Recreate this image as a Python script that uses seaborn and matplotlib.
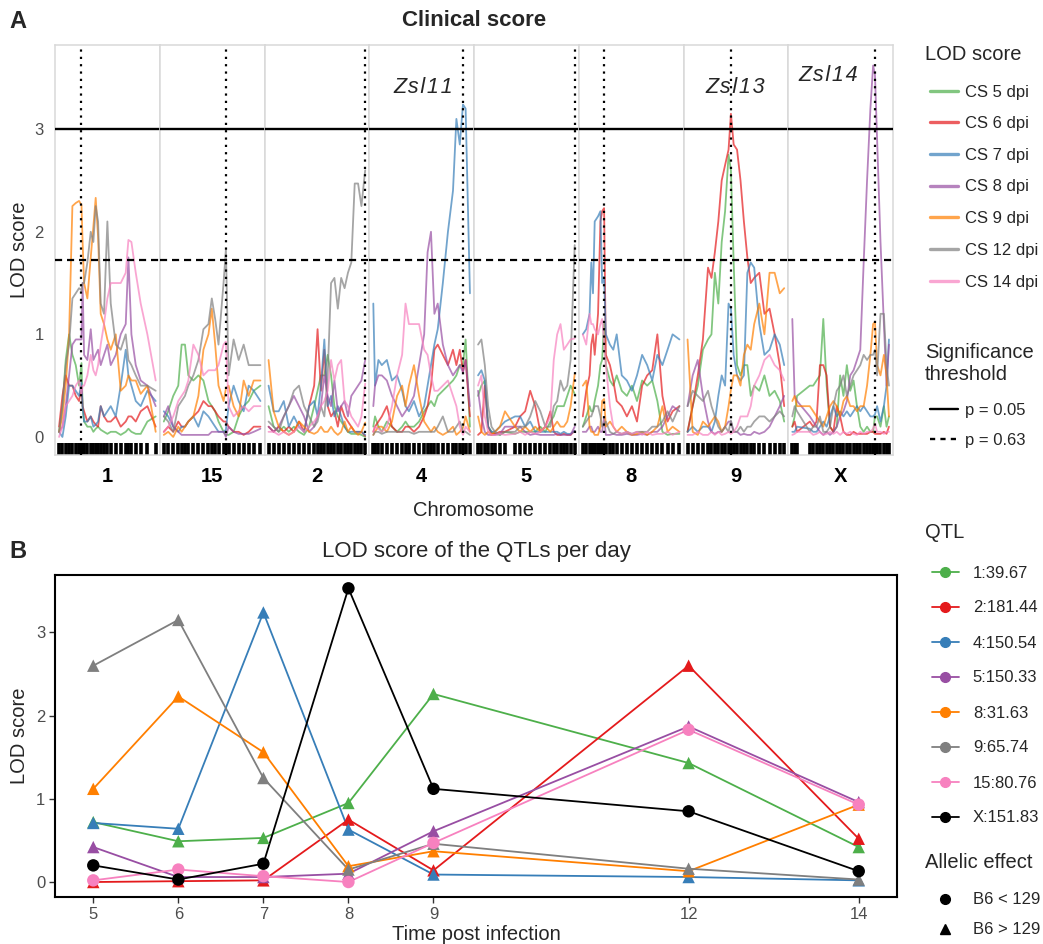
import matplotlib
matplotlib.use("Agg")
import matplotlib.pyplot as plt
from matplotlib.lines import Line2D
import numpy as np
import pandas as pd
import seaborn as sns

# ---------------- Panel A data: LOD score traces per chromosome (Mb) ----------------
series_names = ["CS 5 dpi", "CS 6 dpi", "CS 7 dpi", "CS 8 dpi", "CS 9 dpi", "CS 12 dpi", "CS 14 dpi"]
chrom_names = ["1", "15", "2", "4", "5", "8", "9", "X"]
qtl_pos = [39.67, 80.76, 181.44, 150.54, 150.33, 31.63, 65.74, 151.83]

c1_pos = [3, 8.5, 13.9, 19.4, 24.8, 30.3, 35.7, 39.67, 41.5, 43.9, 49.3, 54.8, 59.1, 62.9, 66.8, 71.1, 76.5, 82, 87.5, 95.7, 103.8, 112, 116.4, 121.3, 128.4, 136.5, 147.4, 161]
c1_cs5 = [0.05, 0.3, 0.75, 1.0, 0.8, 0.7, 0.5, 0.72, 0.3, 0.15, 0.1, 0.1, 0.05, 0.08, 0.1, 0.07, 0.05, 0.03, 0.05, 0.05, 0.02, 0.05, 0.08, 0.05, 0.03, 0.03, 0.15, 0.2]
c1_cs6 = [0.1, 0.4, 0.6, 0.5, 0.5, 0.4, 0.35, 0.49, 0.3, 0.25, 0.15, 0.2, 0.15, 0.12, 0.1, 0.3, 0.2, 0.15, 0.15, 0.2, 0.1, 0.15, 0.2, 0.2, 0.15, 0.25, 0.3, 0.1]
c1_cs7 = [0.05, 0.0, 0.2, 0.5, 0.5, 0.45, 0.4, 0.53, 0.3, 0.15, 0.15, 0.2, 0.1, 0.12, 0.15, 0.3, 0.2, 0.25, 0.3, 0.2, 0.5, 0.85, 0.6, 0.5, 0.35, 0.3, 0.45, 0.35]
c1_cs8 = [0.05, 0.1, 0.3, 0.6, 0.9, 0.95, 0.95, 0.95, 1.5, 0.8, 0.75, 1.05, 0.75, 0.8, 0.85, 0.7, 0.8, 0.9, 0.7, 0.8, 1.0, 1.1, 1.75, 1.0, 0.7, 0.55, 0.5, 0.3]
c1_cs9 = [0.05, 0.2, 0.5, 1.0, 2.25, 2.28, 2.3, 2.26, 1.9, 1.5, 1.35, 1.75, 2.05, 2.33, 1.95, 1.2, 1.1, 0.95, 0.85, 1.0, 0.45, 0.5, 0.6, 0.55, 0.55, 0.42, 0.5, 0.05]
c1_cs12 = [0.05, 0.3, 0.7, 0.9, 1.35, 1.4, 1.45, 1.43, 1.5, 1.5, 1.7, 2.0, 1.9, 2.25, 2.1, 1.3, 1.2, 2.1, 1.3, 0.9, 0.85, 1.0, 0.75, 0.7, 0.6, 0.5, 0.5, 0.45]
c1_cs14 = [0.0, 0.1, 0.3, 0.35, 0.4, 0.5, 0.55, 0.42, 0.5, 0.5, 0.6, 0.8, 0.65, 0.6, 0.7, 0.9, 1.1, 1.35, 1.5, 1.5, 1.5, 1.6, 1.92, 1.9, 1.6, 1.3, 1.0, 0.55]

c15_pos = [3, 8.5, 14.8, 21.1, 25.3, 29.5, 33.7, 40, 46.3, 52.6, 58.9, 63.1, 67.3, 71.5, 77.8, 80.76, 84.1, 90.4, 96.7, 103, 109.3, 115.6, 124]
c15_cs5 = [0.15, 0.25, 0.4, 0.5, 0.9, 0.9, 0.6, 0.55, 0.6, 0.55, 0.35, 0.3, 0.25, 0.15, 0.05, 0.02, 0.02, 0.05, 0.2, 0.3, 0.35, 0.45, 0.5]
c15_cs6 = [0.05, 0.1, 0.05, 0.15, 0.1, 0.1, 0.15, 0.2, 0.25, 0.35, 0.3, 0.3, 0.25, 0.2, 0.15, 0.15, 0.1, 0.05, 0.05, 0.02, 0.05, 0.1, 0.1]
c15_cs7 = [0.25, 0.2, 0.1, 0.05, 0.1, 0.1, 0.15, 0.2, 0.1, 0.25, 0.2, 0.15, 0.1, 0.05, 0.05, 0.07, 0.3, 0.5, 0.35, 0.25, 0.5, 0.45, 0.35]
c15_cs8 = [0.2, 0.3, 0.1, 0.05, 0.02, 0.02, 0.02, 0.02, 0.02, 0.02, 0.02, 0.05, 0.05, 0.05, 0.05, 0.0, 0.1, 0.05, 0.03, 0.03, 0.03, 0.05, 0.08]
c15_cs9 = [0.02, 0.05, 0.0, 0.1, 0.05, 0.1, 0.15, 0.2, 0.4, 0.85, 1.0, 1.25, 0.9, 0.5, 0.35, 0.47, 0.5, 0.3, 0.2, 0.55, 0.4, 0.55, 0.55]
c15_cs12 = [0.2, 0.15, 0.05, 0.3, 0.35, 0.4, 0.5, 0.6, 0.75, 1.05, 1.1, 1.35, 1.15, 0.9, 1.5, 1.83, 0.6, 0.95, 0.75, 0.9, 0.7, 0.7, 0.7]
c15_cs14 = [0.05, 0.1, 0.2, 0.35, 0.4, 0.45, 0.55, 0.9, 0.8, 0.6, 0.65, 0.65, 0.65, 0.7, 0.9, 0.93, 0.3, 0.2, 0.25, 0.3, 0.25, 0.3, 0.3]

c2_pos = [3, 12.4, 21.7, 31.1, 40.4, 49.8, 59.2, 68.5, 77.9, 87.2, 93.5, 99.7, 106, 112.2, 118.4, 124.6, 130.9, 137.1, 143.4, 149.6, 155.8, 162.1, 168.3, 174.5, 181.44]
c2_cs5 = [0.3, 0.1, 0.05, 0.1, 0.05, 0.1, 0.05, 0.02, 0.1, 0.3, 0.45, 0.6, 0.6, 0.8, 0.6, 0.3, 0.2, 0.15, 0.1, 0.05, 0.03, 0.03, 0.03, 0.02, 0.0]
c2_cs6 = [0.1, 0.05, 0.1, 0.05, 0.1, 0.05, 0.15, 0.05, 0.3, 0.5, 1.05, 0.45, 0.85, 0.3, 0.2, 0.25, 0.1, 0.3, 0.2, 0.15, 0.1, 0.05, 0.05, 0.05, 0.01]
c2_cs7 = [0.5, 0.25, 0.25, 0.35, 0.1, 0.2, 0.1, 0.05, 0.3, 0.35, 0.2, 0.5, 0.95, 0.3, 0.4, 0.2, 0.3, 0.2, 0.1, 0.05, 0.05, 0.05, 0.05, 0.05, 0.02]
c2_cs8 = [0.1, 0.05, 0.1, 0.2, 0.3, 0.4, 0.3, 0.2, 0.05, 0.1, 0.2, 0.3, 0.6, 0.4, 0.3, 0.55, 0.25, 0.3, 0.35, 0.2, 0.4, 0.45, 0.5, 0.55, 0.75]
c2_cs9 = [0.75, 0.25, 0.1, 0.05, 0.02, 0.05, 0.15, 0.1, 0.05, 0.03, 0.05, 0.1, 0.05, 0.05, 0.1, 0.05, 0.02, 0.05, 0.15, 0.05, 0.1, 0.05, 0.02, 0.05, 0.14]
c2_cs12 = [0.15, 0.1, 0.05, 0.2, 0.3, 0.45, 0.5, 0.3, 0.2, 0.1, 0.15, 0.3, 0.2, 0.6, 1.5, 1.55, 1.25, 1.55, 1.45, 1.6, 1.7, 2.47, 2.47, 2.25, 2.6]
c2_cs14 = [0.05, 0.05, 0.02, 0.05, 0.02, 0.05, 0.1, 0.05, 0.1, 0.15, 0.2, 0.3, 0.35, 0.45, 0.75, 0.55, 0.7, 0.75, 0.35, 0.3, 0.2, 0.15, 0.1, 0.2, 0.52]

c4_pos = [3, 5.8, 11.4, 17, 25.3, 33.7, 42.1, 50.4, 56, 61.6, 69.9, 78.3, 86.7, 92.3, 97.9, 103.5, 109, 117.4, 125.8, 134.1, 139.7, 145.3, 150.54, 154.9, 162]
c4_cs5 = [0.1, 0.2, 0.1, 0.05, 0.15, 0.1, 0.05, 0.1, 0.15, 0.1, 0.1, 0.15, 0.25, 0.3, 0.35, 0.3, 0.4, 0.45, 0.5, 0.55, 0.6, 0.7, 0.71, 0.95, 0.1]
c4_cs6 = [0.05, 0.1, 0.15, 0.2, 0.3, 0.1, 0.05, 0.05, 0.1, 0.1, 0.05, 0.1, 0.2, 0.3, 0.5, 0.85, 0.9, 0.8, 0.7, 0.85, 0.7, 0.85, 0.64, 0.75, 0.2]
c4_cs7 = [1.3, 0.5, 0.75, 0.7, 0.75, 0.55, 0.6, 0.45, 0.3, 0.25, 0.35, 0.2, 0.3, 0.5, 0.7, 0.9, 1.05, 1.5, 2.0, 2.4, 3.1, 2.85, 3.24, 3.2, 1.4]
c4_cs8 = [0.3, 0.5, 0.6, 0.6, 0.55, 0.4, 0.3, 0.2, 0.25, 0.3, 0.4, 0.7, 1.0, 1.8, 2.0, 1.2, 1.3, 0.9, 0.7, 0.6, 0.65, 0.7, 0.63, 0.75, 0.3]
c4_cs9 = [0.02, 0.05, 0.1, 0.1, 0.05, 0.15, 0.4, 0.5, 0.3, 0.5, 0.7, 0.4, 0.15, 0.1, 0.05, 0.1, 0.05, 0.02, 0.05, 0.1, 0.02, 0.05, 0.09, 0.2, 0.05]
c4_cs12 = [0.02, 0.05, 0.05, 0.03, 0.05, 0.05, 0.05, 0.05, 0.05, 0.05, 0.03, 0.05, 0.05, 0.05, 0.05, 0.05, 0.1, 0.2, 0.05, 0.05, 0.1, 0.15, 0.06, 0.05, 0.02]
c4_cs14 = [0.05, 0.1, 0.08, 0.05, 0.1, 0.3, 0.6, 0.8, 1.3, 1.1, 1.1, 1.1, 0.85, 0.8, 0.6, 0.45, 0.45, 0.5, 0.55, 0.4, 0.3, 0.1, 0.02, 0.1, 0.05]

c5_pos = [3, 8.1, 13.3, 18.4, 23.5, 28.7, 36.4, 44, 59.4, 67.1, 74.8, 82.5, 90.2, 97.9, 105.6, 113.3, 118.4, 123.6, 128.7, 133.8, 139, 144.1, 150.33]
c5_cs5 = [0.4, 0.5, 0.55, 0.1, 0.05, 0.03, 0.02, 0.05, 0.03, 0.05, 0.05, 0.05, 0.05, 0.1, 0.05, 0.15, 0.2, 0.3, 0.3, 0.3, 0.4, 0.5, 0.42]
c5_cs6 = [0.02, 0.05, 0.5, 0.1, 0.03, 0.03, 0.05, 0.05, 0.1, 0.2, 0.25, 0.45, 0.3, 0.05, 0.1, 0.25, 0.05, 0.02, 0.02, 0.03, 0.02, 0.02, 0.06]
c5_cs7 = [0.6, 0.65, 0.55, 0.1, 0.05, 0.05, 0.1, 0.15, 0.2, 0.2, 0.1, 0.15, 0.05, 0.05, 0.05, 0.05, 0.05, 0.05, 0.03, 0.05, 0.03, 0.03, 0.06]
c5_cs8 = [0.45, 0.2, 0.05, 0.02, 0.02, 0.02, 0.03, 0.1, 0.1, 0.1, 0.05, 0.02, 0.03, 0.02, 0.02, 0.02, 0.02, 0.03, 0.02, 0.02, 0.02, 0.02, 0.1]
c5_cs9 = [0.2, 0.05, 0.02, 0.05, 0.02, 0.05, 0.1, 0.25, 0.1, 0.05, 0.1, 0.05, 0.1, 0.05, 0.1, 0.05, 0.1, 0.15, 0.1, 0.1, 0.15, 0.3, 0.61]
c5_cs12 = [0.9, 0.95, 0.7, 0.3, 0.1, 0.05, 0.02, 0.05, 0.05, 0.1, 0.1, 0.2, 0.35, 0.25, 0.1, 0.1, 0.3, 0.35, 0.55, 0.45, 0.5, 0.75, 1.87]
c5_cs14 = [0.5, 0.6, 0.2, 0.05, 0.02, 0.02, 0.03, 0.02, 0.03, 0.05, 0.02, 0.05, 0.03, 0.05, 0.1, 0.2, 0.75, 1.0, 1.1, 0.85, 0.9, 0.95, 0.96]

c8_pos = [3, 7.6, 12.1, 14.4, 16.7, 19, 23.5, 26.7, 29, 31.63, 34, 39.5, 44, 48.6, 55.4, 62.3, 69.1, 75.9, 82.8, 89.6, 96.4, 103.3, 110.1, 117, 123.8, 133]
c8_cs5 = [0.1, 0.2, 0.3, 0.25, 0.25, 0.35, 0.5, 0.7, 0.75, 1.12, 0.7, 0.55, 0.5, 0.6, 0.45, 0.4, 0.5, 0.35, 0.55, 0.5, 0.55, 0.35, 0.05, 0.02, 0.03, 0.03]
c8_cs6 = [0.2, 0.45, 0.6, 0.9, 1.0, 0.8, 1.2, 2.1, 2.2, 2.23, 0.8, 0.7, 0.55, 0.35, 0.3, 0.2, 0.3, 0.15, 0.5, 0.6, 0.65, 1.0, 0.4, 0.15, 0.25, 0.3]
c8_cs7 = [1.0, 1.05, 1.2, 1.7, 1.4, 2.1, 2.15, 2.2, 1.5, 1.56, 1.0, 0.9, 0.85, 1.0, 0.6, 0.55, 0.45, 0.6, 0.8, 0.7, 0.55, 0.8, 0.7, 0.85, 1.0, 0.95]
c8_cs8 = [0.05, 0.05, 0.1, 0.1, 0.05, 0.05, 0.1, 0.05, 0.05, 0.19, 0.02, 0.02, 0.03, 0.02, 0.02, 0.03, 0.02, 0.02, 0.03, 0.02, 0.05, 0.05, 0.1, 0.2, 0.3, 0.25]
c8_cs9 = [0.5, 0.55, 0.1, 0.05, 0.05, 0.02, 0.02, 0.1, 0.35, 0.37, 0.1, 0.15, 0.1, 0.05, 0.1, 0.05, 0.02, 0.03, 0.05, 0.02, 0.05, 0.1, 0.3, 0.05, 0.1, 0.05]
c8_cs12 = [0.1, 0.15, 0.2, 0.2, 0.25, 0.3, 0.3, 0.2, 0.1, 0.13, 0.15, 0.05, 0.03, 0.05, 0.03, 0.05, 0.03, 0.05, 0.05, 0.05, 0.1, 0.1, 0.15, 0.25, 0.15, 0.3]
c8_cs14 = [1.0, 0.9, 1.2, 1.1, 1.1, 1.05, 1.0, 1.1, 1.15, 0.93, 0.7, 0.3, 0.1, 0.05, 0.03, 0.05, 0.03, 0.05, 0.02, 0.05, 0.02, 0.03, 0.03, 0.05, 0.02, 0.05]

c9_pos = [3, 10.4, 17.8, 25.2, 32.6, 37.6, 42.5, 47.5, 52.4, 57.3, 62.3, 65.74, 69.7, 74.6, 79.6, 84.5, 89.5, 94.4, 99.4, 106.8, 114.2, 121.6, 129, 136.4, 142.8]
c9_cs5 = [0.05, 0.3, 0.5, 0.85, 0.95, 1.0, 1.6, 1.3, 1.9, 2.2, 2.75, 2.6, 1.7, 0.7, 0.6, 0.7, 0.7, 0.4, 0.5, 0.45, 0.6, 0.4, 0.45, 0.35, 0.15]
c9_cs6 = [0.05, 0.3, 0.6, 0.95, 1.65, 1.55, 1.8, 2.1, 2.5, 2.65, 2.8, 3.15, 2.85, 2.8, 2.5, 2.1, 1.75, 1.5, 1.55, 1.6, 1.2, 1.25, 1.0, 0.7, 0.3]
c9_cs7 = [0.05, 0.1, 0.05, 0.1, 0.1, 0.05, 0.15, 0.4, 0.6, 0.5, 1.3, 1.25, 0.8, 0.6, 0.55, 0.6, 1.6, 1.7, 1.65, 1.1, 0.8, 0.85, 1.0, 0.9, 0.7]
c9_cs8 = [0.3, 0.6, 0.75, 0.4, 0.15, 0.05, 0.03, 0.05, 0.05, 0.1, 0.15, 0.15, 0.05, 0.05, 0.02, 0.03, 0.02, 0.02, 0.05, 0.03, 0.05, 0.1, 0.2, 0.3, 0.4]
c9_cs9 = [0.95, 0.05, 0.02, 0.15, 0.1, 0.15, 0.2, 0.15, 0.05, 0.1, 0.3, 0.46, 0.6, 0.6, 0.5, 0.8, 0.9, 0.85, 1.1, 1.3, 1.0, 1.6, 1.6, 1.4, 1.45]
c9_cs12 = [0.3, 0.45, 0.4, 0.35, 0.45, 0.3, 0.2, 0.1, 0.05, 0.1, 0.05, 0.16, 0.05, 0.05, 0.1, 0.05, 0.1, 0.1, 0.15, 0.2, 0.2, 0.15, 0.2, 0.25, 0.2]
c9_cs14 = [0.02, 0.02, 0.05, 0.02, 0.02, 0.05, 0.02, 0.05, 0.02, 0.03, 0.05, 0.03, 0.05, 0.1, 0.2, 0.2, 0.2, 0.3, 0.5, 0.6, 0.75, 0.8, 0.7, 0.65, 0.55]

cX_pos = [3, 7.2, 11.5, 34.5, 40.6, 46.6, 52.7, 58.8, 64.8, 70.9, 77, 83, 89.1, 95.1, 101.2, 107.3, 113.3, 119.4, 125.4, 131.5, 137.6, 143.6, 148.5, 151.83, 155.7, 161.8, 167.9, 172.7, 177]
cX_cs5 = [0.1, 0.2, 0.4, 0.5, 0.5, 0.55, 0.6, 1.15, 0.5, 0.1, 0.05, 0.1, 0.6, 0.4, 0.7, 0.45, 0.55, 0.3, 0.1, 0.05, 0.1, 0.05, 0.05, 0.2, 0.2, 0.1, 0.3, 0.1, 0.2]
cX_cs6 = [0.1, 0.15, 0.05, 0.15, 0.1, 0.15, 0.7, 0.7, 0.6, 0.1, 0.05, 0.3, 0.2, 0.05, 0.02, 0.02, 0.05, 0.03, 0.03, 0.03, 0.03, 0.05, 0.05, 0.03, 0.03, 0.03, 0.05, 0.03, 0.1]
cX_cs7 = [0.05, 0.05, 0.1, 0.08, 0.05, 0.05, 0.1, 0.15, 0.1, 0.2, 0.3, 0.2, 0.25, 0.2, 0.25, 0.2, 0.25, 0.3, 0.25, 0.3, 0.25, 0.2, 0.2, 0.22, 0.3, 0.15, 0.3, 0.5, 0.95]
cX_cs8 = [1.15, 0.4, 0.35, 0.2, 0.15, 0.1, 0.05, 0.02, 0.05, 0.02, 0.05, 0.1, 0.2, 0.25, 0.35, 0.6, 0.65, 0.75, 0.85, 1.7, 2.5, 3.2, 3.62, 3.53, 2.9, 1.9, 1.1, 0.5, 0.9]
cX_cs9 = [0.35, 0.4, 0.3, 0.3, 0.25, 0.2, 0.15, 0.1, 0.2, 0.3, 0.35, 0.3, 0.2, 0.35, 0.4, 0.3, 0.3, 0.25, 0.3, 0.3, 0.5, 0.8, 1.1, 1.12, 0.7, 0.6, 0.8, 0.6, 0.2]
cX_cs12 = [0.2, 0.3, 0.25, 0.05, 0.1, 0.1, 0.2, 0.05, 0.05, 0.1, 0.3, 0.45, 0.5, 0.6, 0.4, 0.5, 0.6, 0.65, 0.7, 0.8, 0.75, 0.8, 0.8, 0.85, 0.6, 1.2, 1.2, 0.7, 0.5]
cX_cs14 = [0.02, 0.03, 0.05, 0.05, 0.02, 0.03, 0.05, 0.02, 0.03, 0.05, 0.03, 0.05, 0.02, 0.05, 0.03, 0.05, 0.03, 0.02, 0.05, 0.03, 0.05, 0.05, 0.08, 0.13, 0.05, 0.05, 0.03, 0.05, 0.05]

threshold_05 = 3.0
threshold_63 = 1.72

# ---------------- Panel B data ----------------
days = [5, 6, 7, 8, 9, 12, 14]
qtl_names = ["1:39.67", "2:181.44", "4:150.54", "5:150.33", "8:31.63", "9:65.74", "15:80.76", "X:151.83"]
q1_lod = [0.72, 0.49, 0.53, 0.95, 2.26, 1.43, 0.42]
q2_lod = [0.0, 0.01, 0.02, 0.75, 0.14, 2.60, 0.52]
q4_lod = [0.71, 0.64, 3.24, 0.63, 0.09, 0.06, 0.02]
q5_lod = [0.42, 0.06, 0.06, 0.10, 0.61, 1.87, 0.96]
q8_lod = [1.12, 2.23, 1.56, 0.19, 0.37, 0.13, 0.93]
q9_lod = [2.60, 3.15, 1.25, 0.15, 0.46, 0.16, 0.03]
q15_lod = [0.02, 0.15, 0.07, 0.0, 0.47, 1.83, 0.93]
qX_lod = [0.20, 0.03, 0.22, 3.53, 1.12, 0.85, 0.13]
allele_levels = ["B6 < 129", "B6 > 129"]
q1_allele = ["B6 > 129"] * 7
q2_allele = ["B6 > 129"] * 7
q4_allele = ["B6 > 129"] * 7
q5_allele = ["B6 > 129"] * 7
q8_allele = ["B6 > 129"] * 7
q9_allele = ["B6 > 129"] * 7
q15_allele = ["B6 < 129"] * 7
qX_allele = ["B6 < 129"] * 7

# ---------------- Styling ----------------
sns.set_theme(style="white")
plt.rcParams['font.family'] = ['Liberation Sans', 'DejaVu Sans']

W, H = 1043, 944
fig = plt.figure(figsize=(W / 100, H / 100), dpi=100)


def fx(px):
    return px / W


def fy(py):
    return 1 - py / H


colsA = ['#4DAF4A', '#E41A1C', '#377EB8', '#984EA3', '#FF7F00', '#7F7F7F', '#F781BF']
palA = dict(zip(series_names, colsA))
colsB = ['#4DAF4A', '#E41A1C', '#377EB8', '#984EA3', '#FF7F00', '#7F7F7F', '#F781BF', '#000000']
palB = dict(zip(qtl_names, colsB))
grey_txt = '#4D4D4D'
frame_grey = '#D9D9D9'

chrom_data = [
    (c1_pos, [c1_cs5, c1_cs6, c1_cs7, c1_cs8, c1_cs9, c1_cs12, c1_cs14]),
    (c15_pos, [c15_cs5, c15_cs6, c15_cs7, c15_cs8, c15_cs9, c15_cs12, c15_cs14]),
    (c2_pos, [c2_cs5, c2_cs6, c2_cs7, c2_cs8, c2_cs9, c2_cs12, c2_cs14]),
    (c4_pos, [c4_cs5, c4_cs6, c4_cs7, c4_cs8, c4_cs9, c4_cs12, c4_cs14]),
    (c5_pos, [c5_cs5, c5_cs6, c5_cs7, c5_cs8, c5_cs9, c5_cs12, c5_cs14]),
    (c8_pos, [c8_cs5, c8_cs6, c8_cs7, c8_cs8, c8_cs9, c8_cs12, c8_cs14]),
    (c9_pos, [c9_cs5, c9_cs6, c9_cs7, c9_cs8, c9_cs9, c9_cs12, c9_cs14]),
    (cX_pos, [cX_cs5, cX_cs6, cX_cs7, cX_cs8, cX_cs9, cX_cs12, cX_cs14]),
]

# annotations (label, chromosome index, x in Mb, y)
HS = "\u200A"
annots = [(HS.join("Zsl11"), 3, 84.5, 3.41),
          (HS.join("Zsl13"), 6, 72.2, 3.41),
          (HS.join("Zsl14"), 7, 67.2, 3.52)]

A_left, A_right, A_top, A_bottom = 55, 893, 45, 455
pw = (A_right - A_left) / 8
axesA = []
for i, (name, (pos, vals)) in enumerate(zip(chrom_names, chrom_data)):
    ax = fig.add_axes([fx(A_left + i * pw), fy(A_bottom), pw / W, (A_bottom - A_top) / H])
    axesA.append(ax)
    df = pd.DataFrame({
        'pos': np.tile(pos, len(series_names)),
        'lod': np.concatenate([np.asarray(v, dtype=float) for v in vals]),
        'series': np.repeat(series_names, len(pos)),
    })
    sns.lineplot(data=df, x='pos', y='lod', hue='series', hue_order=series_names,
                 palette=palA, alpha=0.7, linewidth=1.3, estimator=None, sort=False,
                 legend=False, ax=ax)
    sns.rugplot(x=pos, height=0.03, color='black', linewidth=2.6, expand_margins=False, ax=ax)
    ax.axhline(threshold_05, color='black', lw=1.7, zorder=5)
    ax.axhline(threshold_63, color='black', lw=1.6, ls=(0, (3.2, 2.2)), zorder=5)
    ax.axvline(qtl_pos[i], color='black', lw=1.6, ls=(0, (1, 2.3)), zorder=5)
    lo, hi = min(pos), max(pos)
    pad = (hi - lo) * 0.042
    ax.set_xlim(lo - pad, hi + pad)
    ax.set_ylim(-0.176, 3.82)
    ax.set_xticks([(lo + hi) / 2])
    ax.set_xticklabels([name], fontweight='bold', fontsize=14.5)
    ax.tick_params(axis='x', length=0, pad=9, labelcolor='black')
    ax.set_yticks([0, 1, 2, 3])
    if i == 0:
        ax.tick_params(axis='y', length=0, pad=8, labelsize=12, labelcolor=grey_txt)
    else:
        ax.tick_params(axis='y', length=0, labelleft=False)
    ax.set_xlabel('')
    ax.set_ylabel('')
    for sp in ax.spines.values():
        sp.set_color(frame_grey)
        sp.set_linewidth(1.1)
    ax.grid(False)

for lab, ci, xv, yv in annots:
    axesA[ci].text(xv, yv, lab, ha='center', va='center', fontsize=15.5, style='italic', zorder=6)

fig.text(fx(474), fy(21), "Clinical score", ha='center', va='center', fontsize=16, fontweight='bold')
fig.text(fx(474), fy(511), "Chromosome", ha='center', va='center', fontsize=14.5)
fig.text(fx(20), fy(250), "LOD score", ha='center', va='center', rotation=90, fontsize=14.5)
fig.text(fx(18), fy(21), "A", ha='center', va='center', fontsize=17, fontweight='bold')

# legend titles drawn as text, entries as legends
fig.text(fx(925), fy(55), "LOD score", ha='left', va='center', fontsize=14.5)
fig.text(fx(925), fy(352), "Significance", ha='left', va='center', fontsize=14.5)
fig.text(fx(925), fy(374), "threshold", ha='left', va='center', fontsize=14.5)
fig.text(fx(925), fy(533), "QTL", ha='left', va='center', fontsize=14.5)
fig.text(fx(925), fy(862), "Allelic effect", ha='left', va='center', fontsize=14.5)

fig.legend(
    handles=[Line2D([], [], color=c, alpha=0.7, lw=2.4) for c in colsA],
    labels=series_names, loc='upper left',
    bbox_to_anchor=(fx(930), fy(84.5)), frameon=False, fontsize=12,
    handlelength=1.68, handletextpad=0.42, labelspacing=1.0, borderaxespad=0, borderpad=0)
fig.legend(
    handles=[Line2D([], [], color='black', lw=1.7),
             Line2D([], [], color='black', lw=1.7, ls=(0, (2.2, 2.2)))],
    labels=["p = 0.05", "p = 0.63"], loc='upper left',
    bbox_to_anchor=(fx(930), fy(402.5)), frameon=False, fontsize=12,
    handlelength=1.68, handletextpad=0.42, labelspacing=0.9, borderaxespad=0, borderpad=0)

# ---------------- Panel B ----------------
lod_lists = [q1_lod, q2_lod, q4_lod, q5_lod, q8_lod, q9_lod, q15_lod, qX_lod]
allele_lists = [q1_allele, q2_allele, q4_allele, q5_allele, q8_allele, q9_allele, q15_allele, qX_allele]
dfB = pd.DataFrame({
    'day': np.tile(days, len(qtl_names)),
    'lod': np.concatenate([np.asarray(v, dtype=float) for v in lod_lists]),
    'qtl': np.repeat(qtl_names, len(days)),
    'allele': np.concatenate(allele_lists),
})

axB = fig.add_axes([fx(55), fy(897), (897 - 55) / W, (897 - 575) / H])
sns.lineplot(data=dfB, x='day', y='lod', hue='qtl', hue_order=qtl_names, palette=palB,
             linewidth=1.3, estimator=None, sort=False, legend=False, ax=axB)
sns.scatterplot(data=dfB, x='day', y='lod', hue='qtl', hue_order=qtl_names, palette=palB,
                style='allele', style_order=allele_levels,
                markers={"B6 < 129": 'o', "B6 > 129": '^'}, s=80, linewidth=0,
                legend=False, ax=axB, zorder=3)
axB.set_xlim(4.55, 14.45)
axB.set_ylim(-0.18, 3.69)
axB.set_xticks(days)
axB.set_yticks([0, 1, 2, 3])
axB.tick_params(axis='both', length=4, width=1, color='#333333', labelsize=12,
                labelcolor=grey_txt, pad=3, bottom=True, left=True)
axB.set_xlabel('')
axB.set_ylabel('')
for sp in axB.spines.values():
    sp.set_color('black')
    sp.set_linewidth(1.5)
axB.grid(False)

fig.text(fx(476), fy(551), "LOD score of the QTLs per day", ha='center', va='center', fontsize=16)
fig.text(fx(476), fy(934), "Time post infection", ha='center', va='center', fontsize=14.5)
fig.text(fx(20), fy(736), "LOD score", ha='center', va='center', rotation=90, fontsize=14.5)
fig.text(fx(18), fy(552), "B", ha='center', va='center', fontsize=17, fontweight='bold')

fig.legend(
    handles=[Line2D([], [], color=c, lw=1.3, marker='o', markersize=7) for c in colsB],
    labels=qtl_names, loc='upper left',
    bbox_to_anchor=(fx(932), fy(565.5)), frameon=False, fontsize=12,
    handlelength=1.6, handletextpad=0.85, labelspacing=1.2, borderaxespad=0, borderpad=0)
fig.legend(
    handles=[Line2D([], [], color='black', ls='none', marker='o', markersize=7),
             Line2D([], [], color='black', ls='none', marker='^', markersize=7)],
    labels=allele_levels, loc='upper left',
    bbox_to_anchor=(fx(932), fy(892.5)), frameon=False, fontsize=12,
    handlelength=1.6, handletextpad=0.85, labelspacing=0.9, borderaxespad=0, borderpad=0)

fig.savefig('out.png', dpi=100)
